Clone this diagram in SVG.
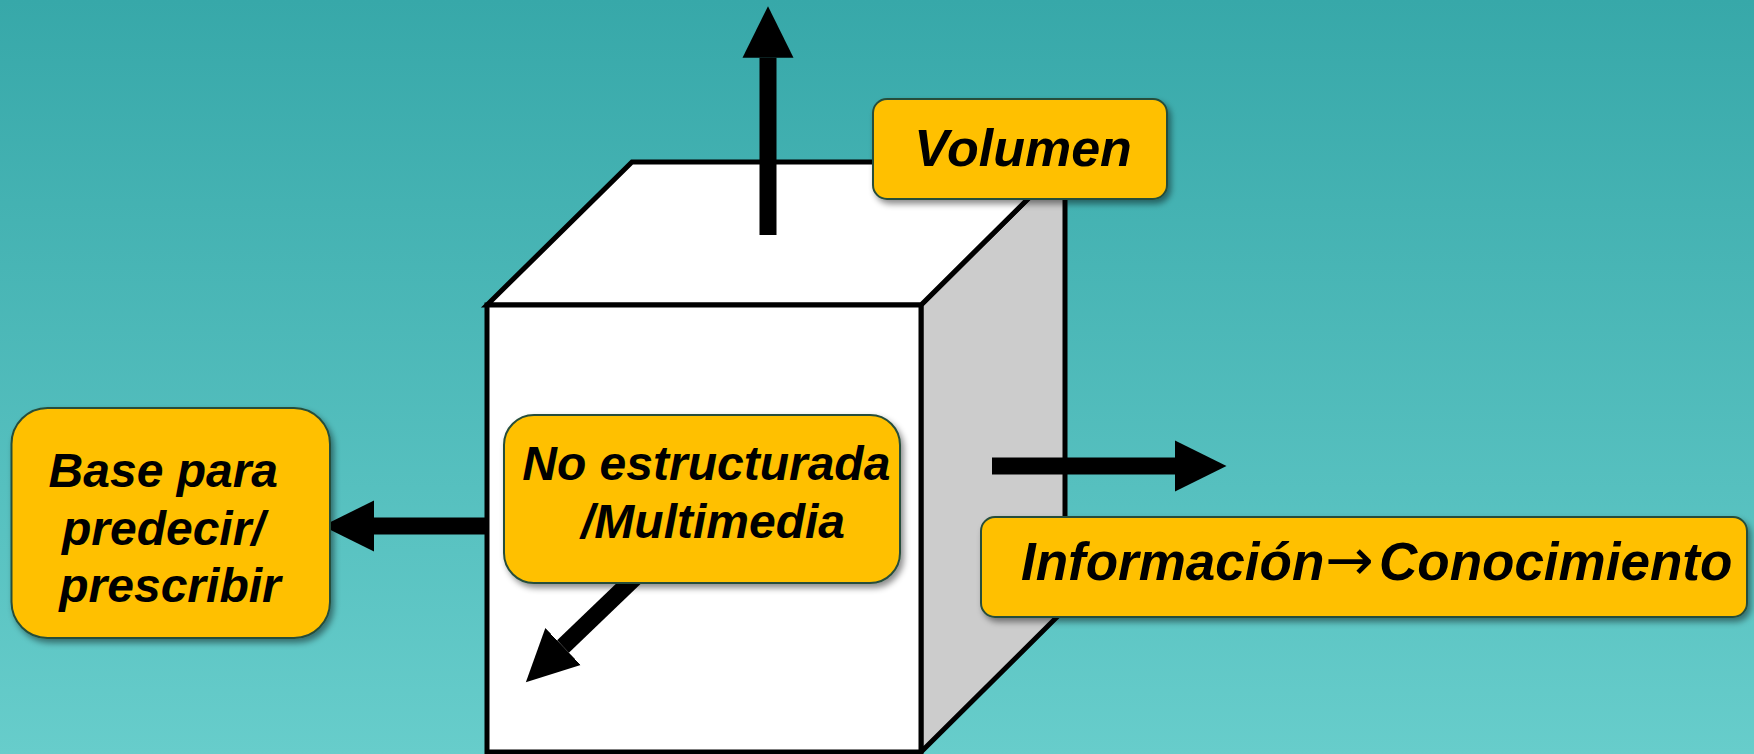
<svg xmlns="http://www.w3.org/2000/svg" width="1754" height="754" viewBox="0 0 1754 754">
  <defs>
    <linearGradient id="bg" x1="0" y1="0" x2="0" y2="1">
      <stop offset="0" stop-color="#37A8A9"/>
      <stop offset="1" stop-color="#67CDCB"/>
    </linearGradient>
    <filter id="shadow" x="-10%" y="-10%" width="120%" height="130%">
      <feDropShadow dx="3" dy="4" stdDeviation="3" flood-color="#000000" flood-opacity="0.45"/>
    </filter>
    <marker id="head" markerUnits="userSpaceOnUse" markerWidth="52" markerHeight="52" refX="0" refY="25.5" orient="auto" viewBox="0 0 52 51">
      <path d="M0,0 L51.5,25.5 L0,51 Z" fill="#000000"/>
    </marker>
    <style>
      .face { stroke: #000000; stroke-width: 5; stroke-linejoin: miter; }
      .arrow { stroke: #000000; stroke-width: 17; fill: none; marker-end: url(#head); }
      .box { fill: #FFC000; stroke: #264E3A; stroke-width: 2; filter: url(#shadow); }
      .lbl { font-family: "Liberation Sans", Arial, sans-serif; font-weight: bold; font-style: italic; fill: #000000; }
      .sym { font-family: "DejaVu Sans", sans-serif; font-weight: normal; font-style: normal; }
    </style>
  </defs>

  <rect x="0" y="0" width="1754" height="754" fill="url(#bg)"/>

  <g id="cube">
    <polygon class="face" points="921,305 1065,162 1065,609 921,752" fill="#CCCCCC"/>
    <polygon class="face" points="487,305 632,162 1065,162 921,305" fill="#FFFFFF"/>
    <polygon class="face" points="487,305 921,305 921,752 487,752" fill="#FFFFFF"/>
  </g>

  <g id="connectors">
    <line class="arrow" x1="768" y1="235" x2="768" y2="57.7"/>
    <line class="arrow" x1="487" y1="526" x2="374" y2="526"/>
    <line class="arrow" x1="992" y1="466" x2="1175" y2="466"/>
    <line class="arrow" x1="650" y1="563" x2="563" y2="646.5"/>
  </g>

  <g id="node-volumen">
    <rect class="box" x="873" y="99" width="294" height="100" rx="14" ry="14"/>
    <text class="lbl" x="1023" y="166" font-size="52" text-anchor="middle">Volumen</text>
  </g>

  <g id="node-base">
    <rect class="box" x="11.5" y="408" width="318.5" height="230" rx="36" ry="36"/>
    <text class="lbl" font-size="48" text-anchor="middle">
      <tspan x="170" y="487">Base para</tspan>
      <tspan x="170" y="545">predecir/</tspan>
      <tspan x="170" y="602">prescribir</tspan>
    </text>
  </g>

  <g id="node-estructura">
    <rect class="box" x="504" y="415" width="396" height="168" rx="30" ry="30"/>
    <text class="lbl" font-size="48" text-anchor="middle">
      <tspan x="713" y="480">No estructurada</tspan>
      <tspan x="713" y="538">/Multimedia</tspan>
    </text>
  </g>

  <g id="node-informacion">
    <rect class="box" x="981" y="517" width="766" height="100" rx="14" ry="14"/>
    <text class="lbl" y="580" font-size="53"><tspan x="1021">Información</tspan><tspan class="sym" x="1325" font-size="58">→</tspan><tspan x="1379">Conocimiento</tspan></text>
  </g>
</svg>
